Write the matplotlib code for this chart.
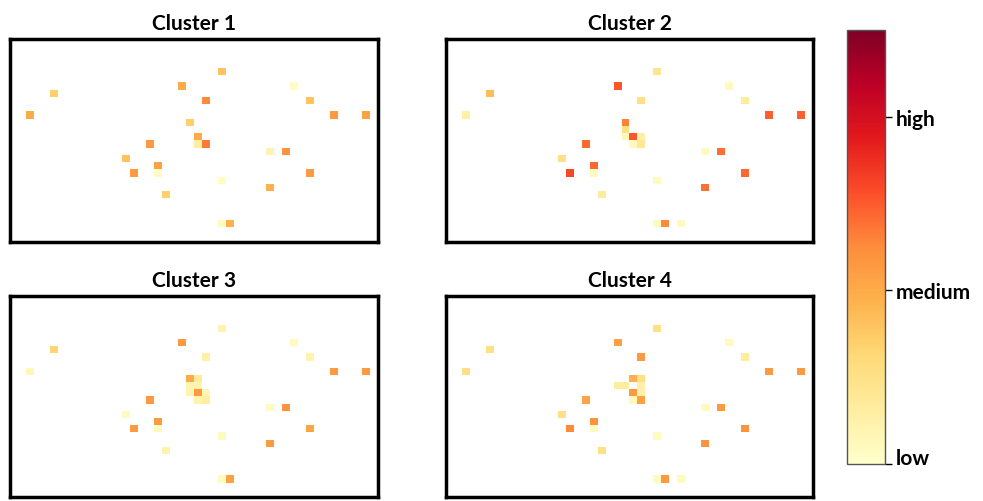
import matplotlib
matplotlib.use("Agg")
import matplotlib.pyplot as plt
import numpy as np

plt.rcParams['font.family'] = ['Lato', 'DejaVu Sans']

n_rows = 28
n_cols = 46

titles = ['Cluster 1', 'Cluster 2', 'Cluster 3', 'Cluster 4']
level_values = [0, 1, 2]
level_labels = ['low', 'medium', 'high']
vmax = 2.5

# (row, col, value) of every filled cell
cluster1_cells = [(4, 26, 0.8), (6, 21, 1.0), (6, 35, 0.05), (7, 5, 0.7), (8, 24, 1.25),
                  (8, 37, 0.8), (10, 2, 1.0), (10, 40, 1.15), (10, 44, 1.08), (11, 22, 0.7),
                  (13, 23, 1.0), (14, 17, 1.15), (14, 23, 0.3), (14, 24, 1.33), (15, 32, 0.2),
                  (15, 34, 1.2), (16, 14, 0.8), (17, 18, 1.08), (18, 15, 1.15), (18, 18, 0.05),
                  (18, 37, 1.15), (19, 26, 0.05), (20, 32, 0.95), (21, 19, 0.7), (25, 26, 0.08),
                  (25, 27, 0.95)]
cluster2_cells = [(4, 26, 0.45), (6, 21, 1.52), (6, 35, 0.08), (7, 5, 0.85), (8, 24, 0.5),
                  (8, 37, 0.32), (10, 2, 0.25), (10, 40, 1.48), (10, 44, 1.48), (11, 22, 1.3),
                  (12, 22, 0.5), (13, 22, 0.15), (13, 23, 1.52), (13, 24, 0.25), (14, 23, 0.1),
                  (14, 24, 0.4), (14, 17, 1.42), (15, 32, 0.08), (15, 34, 1.4), (16, 14, 0.5),
                  (17, 18, 1.42), (18, 15, 1.6), (18, 18, 0.08), (18, 37, 1.42), (19, 26, 0.08),
                  (20, 32, 1.38), (21, 19, 0.35), (25, 26, 0.08), (25, 27, 1.25), (25, 29, 0.08)]
cluster3_cells = [(4, 26, 0.2), (6, 21, 1.15), (6, 35, 0.08), (7, 5, 0.65), (8, 24, 0.25),
                  (8, 37, 0.2), (10, 2, 0.15), (10, 40, 1.15), (10, 44, 1.15), (11, 22, 1.0),
                  (11, 23, 0.35), (12, 22, 0.2), (12, 23, 0.2), (13, 22, 0.2), (13, 23, 1.15),
                  (13, 24, 0.15), (14, 23, 0.2), (14, 24, 0.3), (14, 17, 1.15), (15, 32, 0.08),
                  (15, 34, 1.2), (16, 14, 0.08), (17, 18, 1.15), (18, 15, 1.15), (18, 18, 0.08),
                  (18, 37, 1.05), (19, 26, 0.08), (20, 32, 1.15), (21, 19, 0.2), (25, 26, 0.08),
                  (25, 27, 1.08)]
cluster4_cells = [(4, 26, 0.5), (6, 21, 1.08), (6, 35, 0.08), (7, 5, 0.5), (8, 24, 1.15),
                  (8, 37, 0.32), (10, 2, 0.5), (10, 40, 1.15), (10, 44, 1.15), (11, 23, 0.95),
                  (11, 24, 0.5), (12, 21, 0.32), (12, 22, 0.32), (12, 24, 0.25), (13, 23, 1.15),
                  (13, 24, 0.25), (14, 23, 0.1), (14, 24, 1.08), (14, 17, 1.05), (15, 32, 0.08),
                  (15, 34, 1.15), (16, 14, 0.5), (17, 18, 1.2), (18, 15, 1.25), (18, 18, 0.08),
                  (18, 37, 1.2), (19, 26, 0.08), (20, 32, 1.2), (21, 19, 0.5), (25, 26, 0.08),
                  (25, 27, 1.15), (25, 29, 0.08)]

all_cells = [cluster1_cells, cluster2_cells, cluster3_cells, cluster4_cells]


def make_grid(cells):
    grid = np.full((n_rows, n_cols), np.nan)
    for r, c, v in cells:
        grid[r, c] = v
    return np.ma.masked_invalid(grid)


W, H = 983, 502
fig = plt.figure(figsize=(W / 100, H / 100), dpi=100)

# axes boxes in pixels: left, top, right, bottom
boxes = [(10, 40, 378, 243), (446, 40, 813, 243),
         (10, 297, 378, 498), (446, 297, 813, 498)]

cmap = plt.get_cmap('YlOrRd')
im = None
for (l, t, r, b), title, cells in zip(boxes, titles, all_cells):
    ax = fig.add_axes([l / W, 1 - b / H, (r - l) / W, (b - t) / H])
    im = ax.imshow(make_grid(cells), cmap=cmap, vmin=0, vmax=vmax,
                   aspect='auto', interpolation='nearest')
    ax.set_xticks([])
    ax.set_yticks([])
    for s in ax.spines.values():
        s.set_linewidth(2.5)
        s.set_color('black')
    ax.set_title(title, fontsize=15, fontweight='bold', pad=7)

cax = fig.add_axes([847 / W, 1 - 465 / H, 38 / W, 434 / H])
cb = fig.colorbar(im, cax=cax, ticks=level_values)
cb.ax.set_yticklabels(level_labels, fontsize=15, fontweight='bold')
cb.ax.get_yticklabels()[0].set_verticalalignment('baseline')
cb.ax.tick_params(length=5, width=1, pad=3)
cb.outline.set_linewidth(1)
cb.outline.set_edgecolor('#555555')

fig.savefig('out.png', dpi=100)
